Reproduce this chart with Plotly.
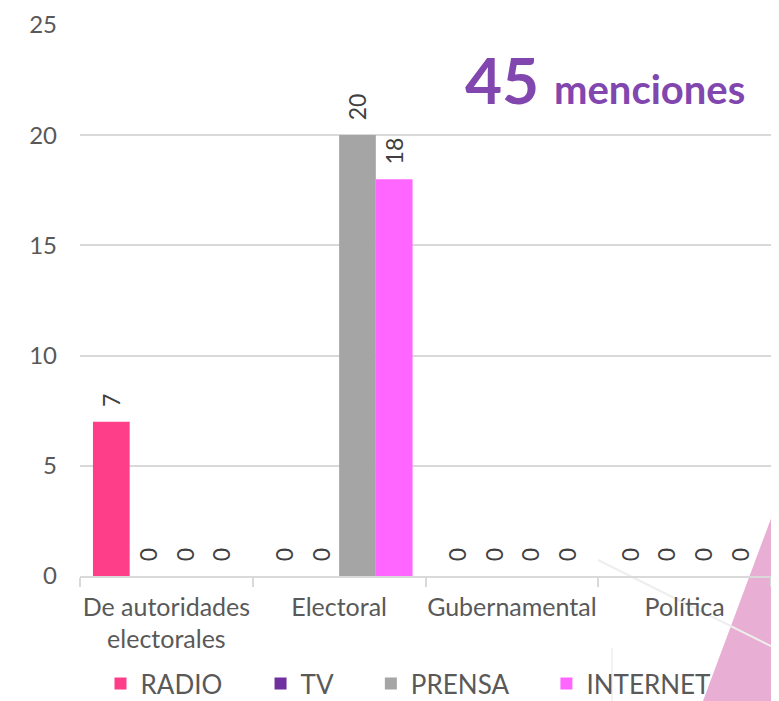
import plotly.graph_objects as go

categories = ["De autoridades<br>electorales", "Electoral", "Gubernamental", "Política"]
series_names = ["RADIO", "TV", "PRENSA", "INTERNET"]
radio = [7, 0, 0, 0]
tv = [0, 0, 0, 0]
prensa = [0, 20, 0, 0]
internet = [0, 18, 0, 0]
colors = ["#FF3E8A", "#7030A0", "#A5A5A5", "#FF66FF"]
y_ticks = [0, 5, 10, 15, 20, 25]
total_label = "45"
legend_pad = [5, 5, 5, 3]

# page body has an 8px margin, so the figure is sized to fit the window exactly
OFF = 8
W, H = 771, 693
L, R, T, B = 72, 8, 16, 125
pw, ph = W - L - R, H - T - B

def px_to_paper(sx, sy):
    fx, fy = sx - OFF, sy - OFF
    return (fx - L) / pw, (H - B - fy) / ph

fig = go.Figure()
for name, vals, col, pad in zip(series_names, [radio, tv, prensa, internet], colors, legend_pad):
    fig.add_trace(go.Bar(
        x=categories, y=vals, name=name + "\u00a0" * pad,
        marker=dict(color=col, line=dict(width=0)),
        text=vals, texttemplate="\u00a0\u00a0%{y}", textposition="outside",
        textangle=-90, cliponaxis=False, constraintext="none",
        textfont=dict(family="Lato", size=23, color="#404040"),
    ))

# decorative triangle
p1 = px_to_paper(779, 497)
p2 = px_to_paper(779, 701)
p3 = px_to_paper(703, 701)
fig.add_shape(type="path", xref="paper", yref="paper",
              path=f"M {p1[0]} {p1[1]} L {p2[0]} {p2[1]} L {p3[0]} {p3[1]} Z",
              fillcolor="#E9AED3", line=dict(width=0), layer="below")
a1 = px_to_paper(598, 560); a2 = px_to_paper(779, 650)
fig.add_shape(type="line", xref="paper", yref="paper", x0=a1[0], y0=a1[1], x1=a2[0], y1=a2[1],
              line=dict(color="#EEEEEE", width=2), layer="below")
b1 = px_to_paper(612, 648); b2 = px_to_paper(612, 701)
fig.add_shape(type="line", xref="paper", yref="paper", x0=b1[0], y0=b1[1], x1=b2[0], y1=b2[1],
              line=dict(color="#F2F2F2", width=2), layer="below")

tx, ty = px_to_paper(747, 79)
fig.add_annotation(xref="paper", yref="paper", x=tx, y=ty, xanchor="right", yanchor="middle",
                   showarrow=False,
                   text=f"<b><span style='font-size:64px'>{total_label}</span>\u00a0\u2009menciones</b>",
                   font=dict(family="Lato", size=40, color="#8246AF"))

fig.update_layout(
    width=W, height=H,
    margin=dict(l=L, r=R, t=T, b=B, autoexpand=False),
    paper_bgcolor="white", plot_bgcolor="rgba(0,0,0,0)",
    barmode="group", bargap=0.15, bargroupgap=0,
    showlegend=True,
    legend=dict(orientation="h", x=px_to_paper(418, 0)[0], xanchor="center",
                y=px_to_paper(0, 660)[1], yanchor="top",
                font=dict(family="Lato", size=26, color="#595959"),
                bgcolor="rgba(0,0,0,0)", itemwidth=30, tracegroupgap=0),
    font=dict(family="Lato", color="#595959"),
)
fig.update_yaxes(range=[0, 25.04], tickvals=y_ticks, showgrid=True, gridcolor="#D9D9D9", gridwidth=1.5,
                 zeroline=False, showline=False, ticks="", ticklabelstandoff=22, automargin=False,
                 tickfont=dict(family="Lato", size=24, color="#595959"))
fig.update_xaxes(showline=True, linecolor="#D9D9D9", linewidth=1.5, ticks="outside",
                 tickson="boundaries", ticklen=9, tickcolor="#D9D9D9", tickwidth=1.5, automargin=False,
                 tickangle=0, ticklabelstandoff=8,
                 tickfont=dict(family="Lato", size=25, color="#595959"))

fig.write_html("out.html")
